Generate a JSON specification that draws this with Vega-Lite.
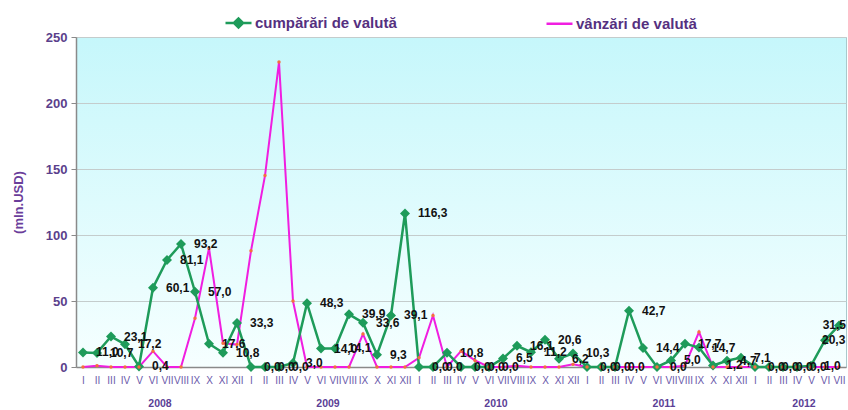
{
"$schema": "https://vega.github.io/schema/vega-lite/v6.json",
"width": 770, "height": 330,
"autosize": {"type": "none"},
"padding": {"left": 76, "top": 37, "right": 2, "bottom": 43},
"background": "white",
"config": {
  "font": "Liberation Sans",
  "locale": {"number": {"decimal": ",", "thousands": ".", "grouping": [3], "currency": ["", ""]}},
  "view": {"fill": {"gradient": "linear", "x1": 0, "y1": 0, "x2": 0, "y2": 1, "stops": [{"offset": 0, "color": "#c6f7fb"}, {"offset": 1, "color": "#f6ffff"}]}, "stroke": "#a9c9cc", "strokeWidth": 1}
},
"datasets": {
"main": [
{"t":"I 2008","c":11.0,"v":0},{"t":"II 2008","c":10.7,"v":1},{"t":"III 2008","c":23.1,"v":0},{"t":"IV 2008","c":17.2,"v":0},{"t":"V 2008","c":0.4,"v":0},{"t":"VI 2008","c":60.1,"v":12},{"t":"VII 2008","c":81.1,"v":0},{"t":"VIII 2008","c":93.2,"v":0},{"t":"IX 2008","c":57.0,"v":37},{"t":"X 2008","c":17.6,"v":90},{"t":"XI 2008","c":10.8,"v":18},{"t":"XII 2008","c":33.3,"v":17},
{"t":"I 2009","c":0,"v":88},{"t":"II 2009","c":0,"v":145},{"t":"III 2009","c":0,"v":231},{"t":"IV 2009","c":3.0,"v":50},{"t":"V 2009","c":48.3,"v":0},{"t":"VI 2009","c":14.0,"v":0},{"t":"VII 2009","c":14.1,"v":0},{"t":"VIII 2009","c":39.9,"v":0},{"t":"IX 2009","c":33.6,"v":25},{"t":"X 2009","c":9.3,"v":0},{"t":"XI 2009","c":39.1,"v":0},{"t":"XII 2009","c":116.3,"v":0},
{"t":"I 2010","c":0,"v":7},{"t":"II 2010","c":0,"v":39},{"t":"III 2010","c":10.8,"v":0},{"t":"IV 2010","c":0,"v":12},{"t":"V 2010","c":0,"v":5},{"t":"VI 2010","c":0,"v":0},{"t":"VII 2010","c":6.5,"v":0},{"t":"VIII 2010","c":16.1,"v":1},{"t":"IX 2010","c":11.2,"v":0},{"t":"X 2010","c":20.6,"v":0},{"t":"XI 2010","c":6.2,"v":0},{"t":"XII 2010","c":10.3,"v":2},
{"t":"I 2011","c":0,"v":0},{"t":"II 2011","c":0,"v":0},{"t":"III 2011","c":0,"v":0},{"t":"IV 2011","c":42.7,"v":0},{"t":"V 2011","c":14.4,"v":0},{"t":"VI 2011","c":0,"v":0},{"t":"VII 2011","c":5.0,"v":0},{"t":"VIII 2011","c":17.7,"v":1},{"t":"IX 2011","c":14.7,"v":26.5},{"t":"X 2011","c":1.2,"v":0},{"t":"XI 2011","c":4.7,"v":0},{"t":"XII 2011","c":7.1,"v":0},
{"t":"I 2012","c":0,"v":0},{"t":"II 2012","c":0,"v":0},{"t":"III 2012","c":0,"v":0},{"t":"IV 2012","c":0,"v":0},{"t":"V 2012","c":1.0,"v":0},{"t":"VI 2012","c":20.3,"v":0},{"t":"VII 2012","c":31.5,"v":0}
],
"years": [{"t": "VI 2008", "yr": "2008"}, {"t": "VI 2009", "yr": "2009"}, {"t": "VI 2010", "yr": "2010"}, {"t": "VI 2011", "yr": "2011"}, {"t": "IV 2012", "yr": "2012"}]
},
"encoding": {
  "x": {"field": "t", "type": "ordinal",
    "scale": {"type": "point", "padding": 0.5, "domain": ["I 2008","II 2008","III 2008","IV 2008","V 2008","VI 2008","VII 2008","VIII 2008","IX 2008","X 2008","XI 2008","XII 2008","I 2009","II 2009","III 2009","IV 2009","V 2009","VI 2009","VII 2009","VIII 2009","IX 2009","X 2009","XI 2009","XII 2009","I 2010","II 2010","III 2010","IV 2010","V 2010","VI 2010","VII 2010","VIII 2010","IX 2010","X 2010","XI 2010","XII 2010","I 2011","II 2011","III 2011","IV 2011","V 2011","VI 2011","VII 2011","VIII 2011","IX 2011","X 2011","XI 2011","XII 2011","I 2012","II 2012","III 2012","IV 2012","V 2012","VI 2012","VII 2012"]},
    "axis": {"title": null, "labelExpr": "split(datum.label, ' ')[0]", "labelAngle": 0, "labelOverlap": false, "labelFontSize": 10, "labelColor": "#6a58aa", "labelPadding": 8, "ticks": false, "domainColor": "#8a8a8a", "domainWidth": 1.5, "grid": false}}
},
"layer": [
  {"data": {"name": "main"},
   "transform": [{"fold": ["c", "v"], "as": ["k", "val"]}],
   "encoding": {
     "y": {"field": "val", "type": "quantitative",
       "scale": {"domain": [0, 250], "nice": false},
       "axis": {"title": "(mln.USD)", "titleColor": "#6a3d9a", "titleFontSize": 13, "titleFontWeight": "bold", "titlePadding": 20, "values": [0, 50, 100, 150, 200, 250], "labelFontSize": 13, "labelFontWeight": "bold", "labelColor": "#5b3f8c", "labelPadding": 4, "tickSize": 5, "tickColor": "#8a8a8a", "domainColor": "#8a8a8a", "domainWidth": 1.5, "gridColor": "#c4cccc", "gridWidth": 1}}
   },
   "layer": [
    {"transform": [{"filter": "datum.k == 'v'"}],
     "mark": {"type": "line", "strokeWidth": 2},
     "encoding": {"color": {"field": "k", "type": "nominal",
       "scale": {"domain": ["c", "v"], "range": ["#1e9b5a", "#f01ee0"]},
       "legend": {"orient": "none", "legendX": 148, "legendY": -29, "direction": "horizontal", "title": null,
         "labelFontSize": 15, "labelFontWeight": "bold", "labelColor": "#55307f", "symbolSize": 676, "symbolStrokeWidth": 2.5,
         "columnPadding": 144, "padding": 0, "labelOffset": 2,
         "labelExpr": "datum.value == 'c' ? 'cumpărări de valută' : 'vânzări de valută'",
         "encode": {"symbols": {"update": {
           "shape": {"signal": "datum.value == 'c' ? 'M-1,0H1M-0.35,0L0,-0.35L0.35,0L0,0.35Z' : 'M-1,0H1'"},
           "fill": {"signal": "datum.value == 'c' ? '#1e9b5a' : 'transparent'"}}}}}}}},
    {"transform": [{"filter": "datum.k == 'c'"}],
     "mark": {"type": "line", "strokeWidth": 2.5},
     "encoding": {"color": {"field": "k", "type": "nominal"}}},
    {"transform": [{"filter": "datum.k == 'c'"}],
     "mark": {"type": "point", "shape": "diamond", "filled": true, "size": 100, "color": "#1e9b5a", "opacity": 1}},
    {"transform": [{"filter": "datum.k == 'v'"}],
     "mark": {"type": "point", "shape": "circle", "filled": true, "size": 12, "color": "#f4703c", "opacity": 1}},
    {"transform": [{"filter": "datum.k == 'c' && datum.t != 'VI 2012' && datum.t != 'VII 2012'"}],
     "mark": {"type": "text", "align": "left", "baseline": "middle", "dx": 13, "fontSize": 12, "fontWeight": "bold", "color": "#111111"},
     "encoding": {"text": {"field": "val", "type": "quantitative", "format": ".1f"}}},
    {"transform": [{"filter": "datum.k == 'c' && datum.t == 'VI 2012'"}],
     "mark": {"type": "text", "align": "left", "baseline": "middle", "dx": -3, "fontSize": 12, "fontWeight": "bold", "color": "#111111"},
     "encoding": {"text": {"field": "val", "type": "quantitative", "format": ".1f"}}},
    {"transform": [{"filter": "datum.k == 'c' && datum.t == 'VII 2012'"}],
     "mark": {"type": "text", "align": "right", "baseline": "middle", "dx": 7, "fontSize": 12, "fontWeight": "bold", "color": "#111111"},
     "encoding": {"text": {"field": "val", "type": "quantitative", "format": ".1f"}}}
   ]},
  {"data": {"name": "years"},
   "mark": {"type": "text", "align": "center", "baseline": "middle", "dx": 7, "fontSize": 10.5, "fontWeight": "bold", "color": "#5b3f96"},
   "encoding": {"y": {"datum": -28, "type": "quantitative"}, "text": {"field": "yr", "type": "nominal"}}}
]
}
